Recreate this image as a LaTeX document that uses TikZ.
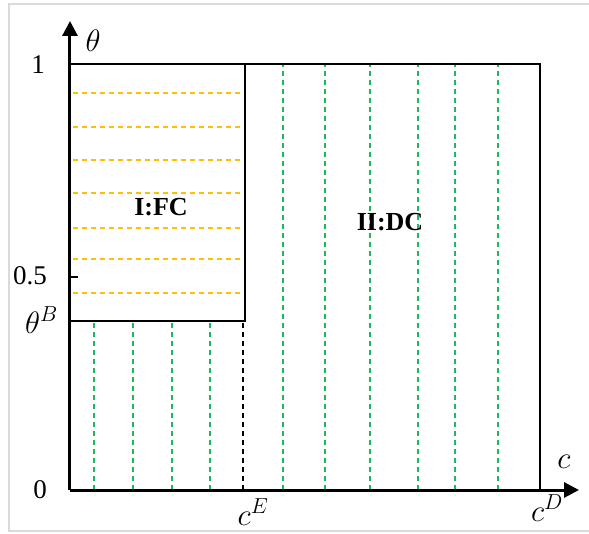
\RequirePackage{fix-cm}
\documentclass[tikz,border=0pt]{standalone}
\usepackage{fontspec}
\setmainfont{Liberation Serif}
\usetikzlibrary{arrows.meta, positioning}
\definecolor{frameGray}  {RGB}{218,218,218}
\definecolor{regionGold} {RGB}{255,192,  0}
\definecolor{regionGreen}{RGB}{ 30,185, 95}

\begin{document}
\begin{tikzpicture}[
  x=1pt, y=1pt,
  axis/.style={-{Triangle[length=15pt,width=15pt]}, line width=3pt},
  bound/.style={line width=2pt},
  fcline/.style={regionGold, line width=1.3pt, dash pattern=on 5pt off 4pt},
  dcline/.style={regionGreen, line width=1.3pt, dash pattern=on 5pt off 4pt},
  tick/.style={font=\fontsize{27}{31}\selectfont, anchor=east, inner sep=0pt},
  mlabel/.style={font=\fontsize{31}{35}\selectfont, inner sep=0pt},
  region/.style={font=\fontsize{26}{30}\selectfont\bfseries},
]
\useasboundingbox (-70,-43) rectangle (519,490);

%% -- frame ---------------------------------------------------------------------
\draw[frameGray, line width=1.5pt] (540,486) -- (-61,486) -- (-61,-41) -- (540,-41);

%% -- hatching of the two regions ----------------------------------------------
\foreach \y in {397,363,330,297,262,231,197}
  \draw[fcline] (3,\y) -- (174,\y);
\foreach \x in {24,63,102,140}
  \draw[dcline] (\x,0) -- (\x,169);
\foreach \x in {213,255,300,348,385,428}
  \draw[dcline] (\x,0) -- (\x,426);
\draw[black, line width=1.3pt, dash pattern=on 5pt off 4pt] (173,0) -- (173,169);

%% -- region boundaries ---------------------------------------------------------
\draw[bound] (0,169) -- (175,169) -- (175,426);
\draw[bound] (0,426) -- (470,426) -- (470,0);

%% -- axes ----------------------------------------------------------------------
\coordinate (O) at (0,0);
\coordinate (xEnd) at (509,0);
\coordinate (yEnd) at (0,469);
\draw[axis] (O) -- (xEnd);
\draw[axis] (O) -- (yEnd);
\draw[line width=2.5pt] (0,426) -- (8,426);
\draw[line width=2.5pt] (0,213) -- (8,213);

%% -- labels --------------------------------------------------------------------
\node[tick] (lblOne)  at (-25,425) {1};
\node[tick] (lblHalf) at (-23,214) {0.5};
\node[mlabel, anchor=east] (lblB) at (-12,170) {$\theta^B$};
\node[tick] (lblZero) at (-23,0) {0};
\node[mlabel] (lblTheta) at (23,449) {$\theta$};
\node[mlabel] (lblC)     at (494,28) {$c$};
\node[mlabel] (lblE)     at (183,-22) {$c^E$};
\node[mlabel] (lblD)     at (477,-18) {$c^D$};

\node[region] (FC) at (91,283) {I:FC};
\node[region] (DC) at (320,268) {II:DC};

\end{tikzpicture}
\end{document}
